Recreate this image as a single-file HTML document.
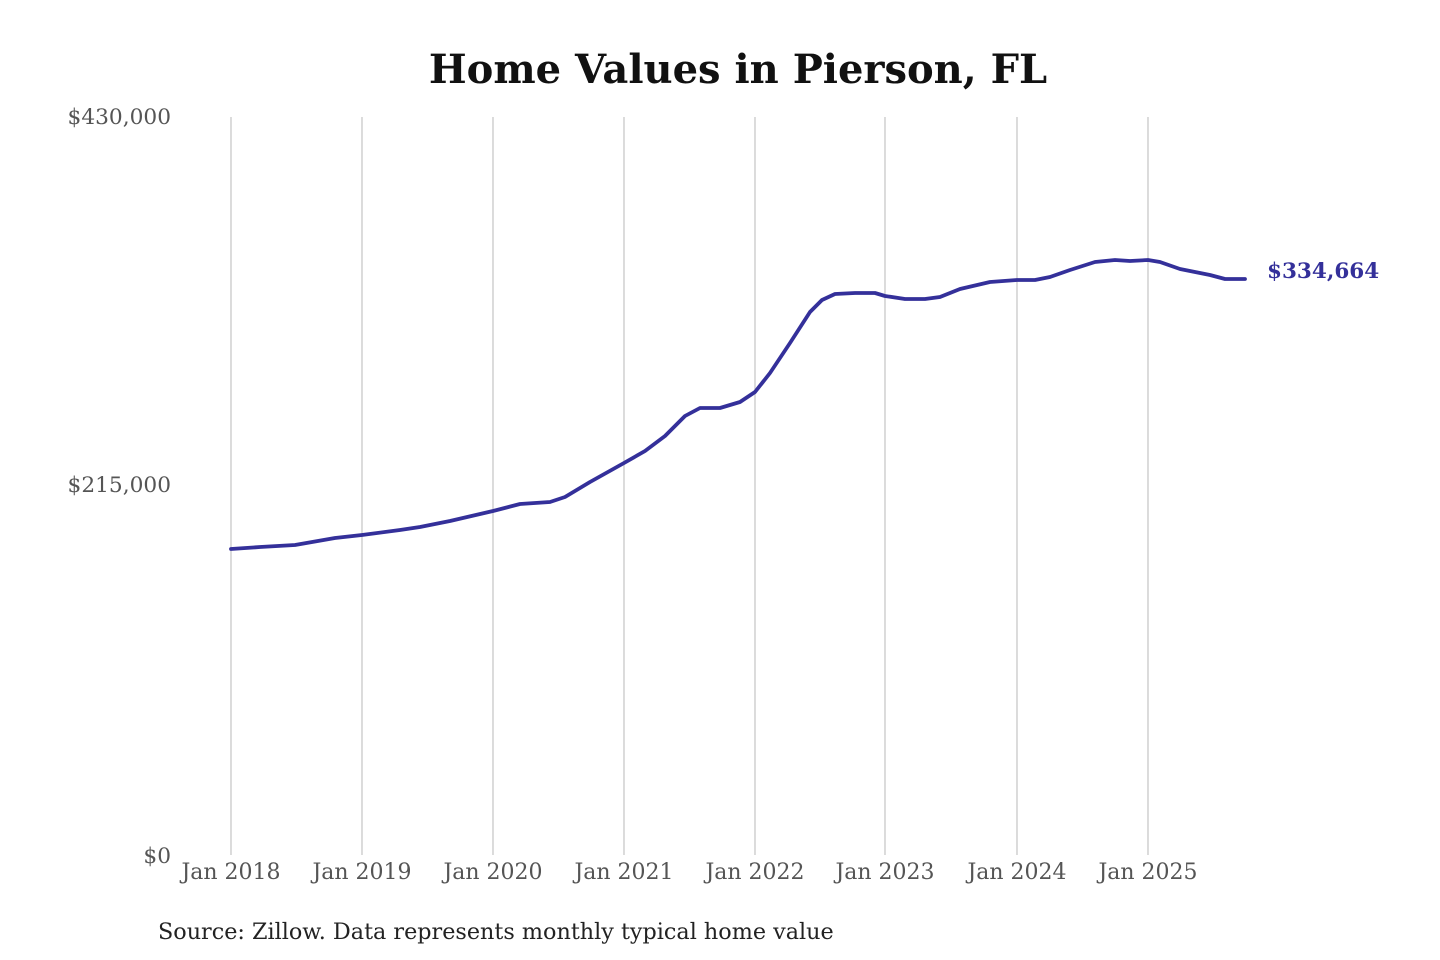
<!DOCTYPE html>
<html><head><meta charset="utf-8"><style>
body{margin:0;background:#fff;}
svg{display:block;}
text{font-family:"DejaVu Serif","Liberation Serif",serif;}
</style></head><body>
<svg width="1440" height="960" viewBox="0 0 1440 960" xmlns="http://www.w3.org/2000/svg">
<rect width="1440" height="960" fill="#fff"/>
<text x="738" y="83" text-anchor="middle" font-size="40" font-weight="bold" fill="#111">Home Values in Pierson, FL</text>
<g stroke="#c8c8c8" stroke-width="1.3">
<line x1="231" y1="117" x2="231" y2="855"/><line x1="362" y1="117" x2="362" y2="855"/>
<line x1="493" y1="117" x2="493" y2="855"/><line x1="624" y1="117" x2="624" y2="855"/>
<line x1="755" y1="117" x2="755" y2="855"/><line x1="885" y1="117" x2="885" y2="855"/>
<line x1="1017" y1="117" x2="1017" y2="855"/><line x1="1148" y1="117" x2="1148" y2="855"/>
</g>
<g font-size="21.7" fill="#555" text-anchor="end">
<text x="171" y="124">$430,000</text>
<text x="171" y="492">$215,000</text>
<text x="171" y="863">$0</text>
</g>
<g font-size="22" fill="#555" text-anchor="middle">
<text x="231" y="879">Jan 2018</text><text x="362" y="879">Jan 2019</text>
<text x="493" y="879">Jan 2020</text><text x="624" y="879">Jan 2021</text>
<text x="755" y="879">Jan 2022</text><text x="885" y="879">Jan 2023</text>
<text x="1017" y="879">Jan 2024</text><text x="1148" y="879">Jan 2025</text>
</g>
<polyline fill="none" stroke="#34309a" stroke-width="3.8" stroke-linejoin="round" stroke-linecap="round"
points="231,549 260,547 295,545 335,538 362,535 400,530 420,527 450,521 493,511 520,504 550,502 565,497 590,482 624,463 645,451 665,436 685,416 700,408 720,408 740,402 755,392 770,373 790,343 810,312 822,300 835,294 855,293 875,293 885,296 905,299 925,299 940,297 960,289 990,282 1017,280 1035,280 1050,277 1070,270 1095,262 1115,260 1130,261 1148,260 1160,262 1180,269 1210,275 1225,279 1245,279"/>
<text x="1267" y="278" font-size="21.5" font-weight="bold" fill="#34309a">$334,664</text>
<text x="158" y="939" font-size="22.3" fill="#222">Source: Zillow. Data represents monthly typical home value</text>
</svg>
</body></html>
